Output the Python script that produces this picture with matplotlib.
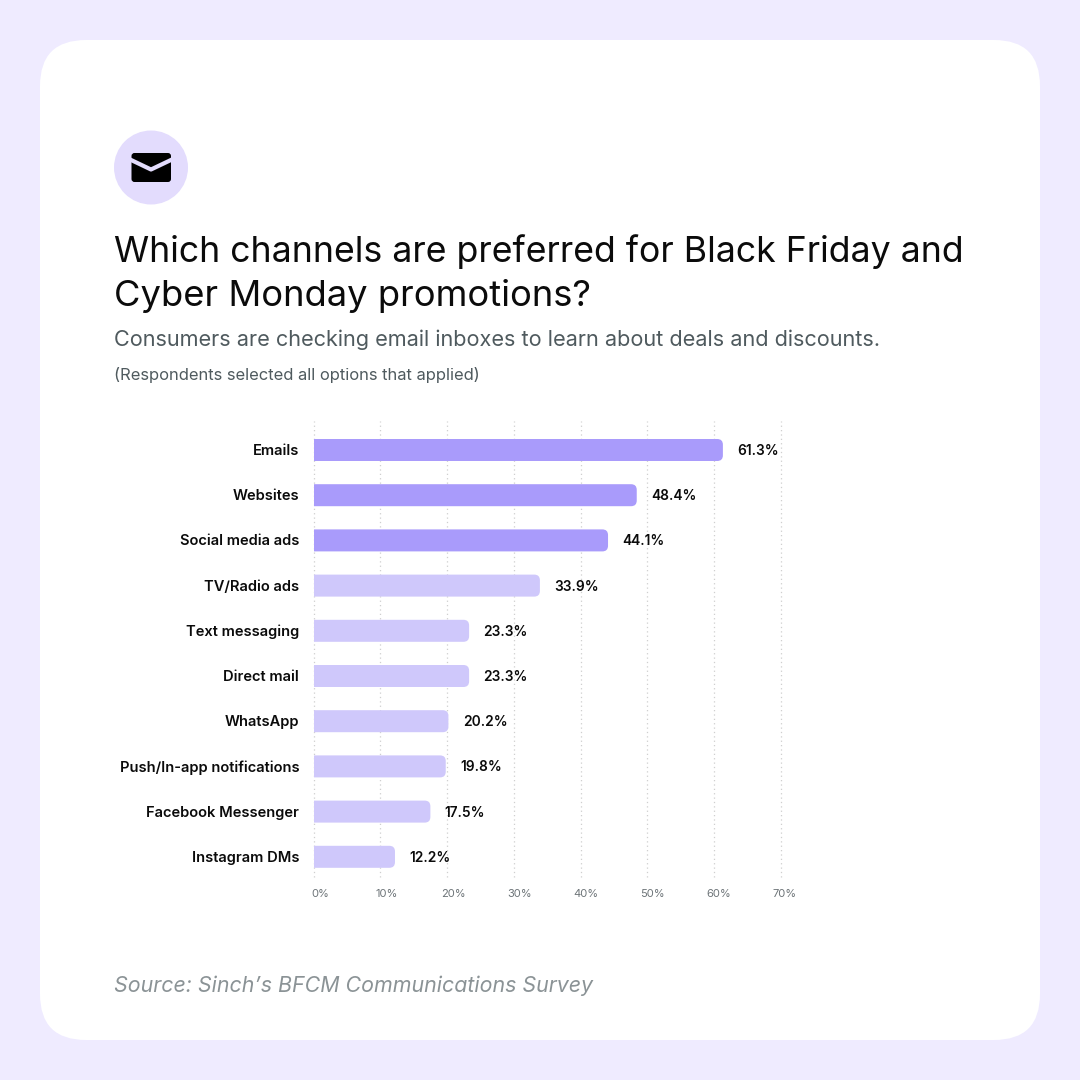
import matplotlib
matplotlib.use("Agg")
import matplotlib.pyplot as plt
from matplotlib.patches import FancyBboxPatch, Circle

plt.rcParams['font.family'] = ['Inter', 'DejaVu Sans']

# Data
channels = ["Emails", "Websites", "Social media ads", "TV/Radio ads", "Text messaging",
            "Direct mail", "WhatsApp", "Push/In-app notifications", "Facebook Messenger", "Instagram DMs"]
values = [61.3, 48.4, 44.1, 33.9, 23.3, 23.3, 20.2, 19.8, 17.5, 12.2]
ticks = [0, 10, 20, 30, 40, 50, 60, 70]
tick_labels = ["0%", "10%", "20%", "30%", "40%", "50%", "60%", "70%"]

dark_bar = "#A99BFB"
light_bar = "#CFC8FB"
n_dark = 3

fig = plt.figure(figsize=(10.8, 10.8), dpi=100, facecolor="#EFEBFF")

# Background layer in pixel coordinates
bg = fig.add_axes([0, 0, 1, 1])
bg.set_xlim(0, 1080)
bg.set_ylim(1080, 0)
bg.axis("off")
bg.add_patch(FancyBboxPatch((40, 40), 1000, 1000, boxstyle="round,pad=0,rounding_size=46",
                            fc="white", ec="none"))

# Mail icon
bg.add_patch(Circle((151, 167.5), 37, fc="#E3DCFD", ec="none"))
bg.add_patch(FancyBboxPatch((131.5, 153), 39.5, 29, boxstyle="round,pad=0,rounding_size=3",
                            fc="black", ec="none"))
bg.plot([129, 151, 173], [159, 169.5, 159], color="#E3DCFD", lw=3, solid_joinstyle="round")

# Headings
bg.text(114, 252, "Which channels are preferred for Black Friday and", fontsize=25.7,
        color="#0b0b0b", va="center")
bg.text(114, 296, "Cyber Monday promotions?", fontsize=26.2, color="#0b0b0b", va="center")
bg.text(114, 339.5, "Consumers are checking email inboxes to learn about deals and discounts.",
        fontsize=15.6, color="#4f5a5e", va="center")
bg.text(114, 375, "(Respondents selected all options that applied)", fontsize=11.9,
        color="#4f5a5e", va="center")
bg.text(114, 986, "Source: Sinch\u2019s BFCM Communications Survey", fontsize=15.4,
        color="#8b9396", style="italic", va="center")

# Chart axes: 0-70% spans x 313.5-781, rows 45.2 px apart
left, right, top, bottom = 313.5, 781, 421, 877
ax = fig.add_axes([left / 1080, 1 - bottom / 1080, (right - left) / 1080, (bottom - top) / 1080])
ax.patch.set_alpha(0)
ax.set_xlim(0, 70)
row_px = 45.2
ax.set_ylim((bottom - 450) / row_px, (top - 450) / row_px)
for s in ax.spines.values():
    s.set_visible(False)

ax.set_axisbelow(True)
ax.set_xticks(ticks)
ax.set_xticklabels([])
ax.set_yticks([])
ax.tick_params(length=0)
ax.grid(axis="x", color="#cfcfcf", lw=0.9, linestyle=(0, (1, 2.5)))
for gl in ax.get_xgridlines():
    gl.set_clip_on(False)

x_px = (right - left) / 70
aspect = (1 / row_px) / (1 / x_px)
bar_h = 22 / row_px
for i, (name, v) in enumerate(zip(channels, values)):
    color = dark_bar if i < n_dark else light_bar
    # starts left of zero so the axes clip squares off the left end
    ax.add_patch(FancyBboxPatch((-3, i - bar_h / 2), v + 3, bar_h,
                                boxstyle="round,pad=0,rounding_size=0.85",
                                mutation_aspect=aspect, fc=color, ec="none", zorder=3))
    ax.annotate(name, (0, i), xytext=(-10.3, -0.7), textcoords="offset points", ha="right",
                va="center", fontsize=10.55, fontweight="semibold", color="#0b0b0b")
    ax.annotate(f"{v}%", (v, i), xytext=(10.3, -0.7), textcoords="offset points", ha="left",
                va="center", fontsize=9.9, fontweight="semibold", color="#0b0b0b")

# Tick labels sit a little right of their gridlines
y_lim = ax.get_ylim()[0]
for t, lab in zip(ticks, tick_labels):
    ax.annotate(lab, (t, y_lim), xytext=(5 - t * 0.03, -12), textcoords="offset points", ha="center",
                va="center", fontsize=8, color="#6d7478")

fig.savefig("out.png", dpi=100, facecolor=fig.get_facecolor())
